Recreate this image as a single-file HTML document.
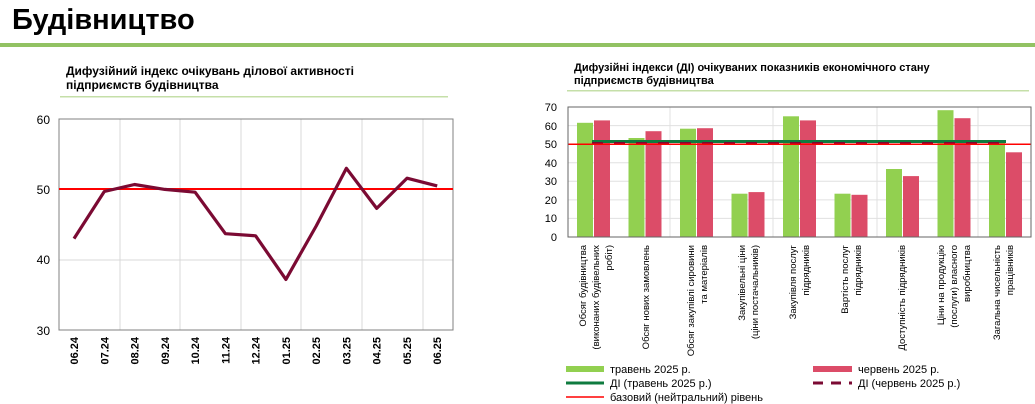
<!DOCTYPE html>
<html><head><meta charset="utf-8"><style>
html,body{margin:0;padding:0;background:#fff;}
svg{display:block;font-family:"Liberation Sans",sans-serif;}
</style></head><body>
<svg width="1035" height="404" viewBox="0 0 1035 404" xmlns="http://www.w3.org/2000/svg">
<text x="12" y="29" font-size="29" font-weight="bold">Будівництво</text>
<rect x="0" y="43" width="1035" height="4" fill="#92c263"/>

<!-- Left chart -->
<text x="66" y="75" font-size="12" font-weight="bold">Дифузійний індекс очікувань ділової активності</text>
<text x="66" y="89" font-size="12" font-weight="bold">підприємств будівництва</text>
<rect x="60" y="96" width="388" height="1.5" fill="#c5dfa8"/>
<g stroke="#d9d9d9" stroke-width="1">
<line x1="59" y1="260" x2="453" y2="260"/>
<line x1="120" y1="119" x2="120" y2="330"/><line x1="180" y1="119" x2="180" y2="330"/>
<line x1="241" y1="119" x2="241" y2="330"/><line x1="301" y1="119" x2="301" y2="330"/>
<line x1="362" y1="119" x2="362" y2="330"/><line x1="423" y1="119" x2="423" y2="330"/>
</g>
<rect x="59" y="119" width="394" height="211" fill="none" stroke="#808080" stroke-width="1"/>
<line x1="59" y1="189" x2="453" y2="189" stroke="#ff0000" stroke-width="2"/>
<g font-size="12" text-anchor="end"><text x="50" y="124">60</text><text x="50" y="194">50</text><text x="50" y="264">40</text><text x="50" y="335">30</text></g>
<polyline fill="none" stroke="#7b0a33" stroke-width="3.2" stroke-linejoin="round" points="74,238.6 104.3,191.5 134.5,184.5 164.8,189.4 195.1,192.2 225.4,233.7 255.6,235.8 285.9,279.4 316.2,226 346.4,168.3 376.7,208.4 407,178.2 437.2,185.9"/>
<g font-size="11" font-weight="bold" text-anchor="end">
<text transform="translate(78,337) rotate(-90)">06.24</text>
<text transform="translate(108.3,337) rotate(-90)">07.24</text>
<text transform="translate(138.5,337) rotate(-90)">08.24</text>
<text transform="translate(168.8,337) rotate(-90)">09.24</text>
<text transform="translate(199.1,337) rotate(-90)">10.24</text>
<text transform="translate(229.4,337) rotate(-90)">11.24</text>
<text transform="translate(259.6,337) rotate(-90)">12.24</text>
<text transform="translate(289.9,337) rotate(-90)">01.25</text>
<text transform="translate(320.2,337) rotate(-90)">02.25</text>
<text transform="translate(350.4,337) rotate(-90)">03.25</text>
<text transform="translate(380.7,337) rotate(-90)">04.25</text>
<text transform="translate(411,337) rotate(-90)">05.25</text>
<text transform="translate(441.2,337) rotate(-90)">06.25</text>
</g>

<!-- Right chart -->
<text x="574" y="71" font-size="11" font-weight="bold">Дифузійні індекси (ДІ) очікуваних показників економічного стану</text>
<text x="574" y="84" font-size="11" font-weight="bold">підприємств будівництва</text>
<rect x="567" y="90" width="462" height="1.5" fill="#c5dfa8"/>
<g stroke="#e0e0e0" stroke-width="1">
<line x1="568" y1="125.6" x2="1031" y2="125.6"/><line x1="568" y1="144.1" x2="1031" y2="144.1"/>
<line x1="568" y1="162.7" x2="1031" y2="162.7"/><line x1="568" y1="181.3" x2="1031" y2="181.3"/>
<line x1="568" y1="199.9" x2="1031" y2="199.9"/><line x1="568" y1="218.4" x2="1031" y2="218.4"/>
<line x1="670" y1="107" x2="670" y2="237"/><line x1="773" y1="107" x2="773" y2="237"/>
<line x1="877" y1="107" x2="877" y2="237"/><line x1="978" y1="107" x2="978" y2="237"/>
</g>
<g fill="#92d050">
<rect x="577" y="122.8" width="16" height="114.2"/><rect x="628.5" y="138" width="16" height="99"/>
<rect x="680" y="128.7" width="16" height="108.3"/><rect x="731.5" y="193.7" width="16" height="43.3"/>
<rect x="783" y="116.3" width="16" height="120.7"/><rect x="834.5" y="193.7" width="16" height="43.3"/>
<rect x="886" y="169" width="16" height="68"/><rect x="937.5" y="110.2" width="16" height="126.8"/>
<rect x="989" y="143" width="16" height="94"/>
</g>
<g fill="#dc4c68">
<rect x="594" y="120.4" width="16" height="116.6"/><rect x="645.5" y="131.2" width="16" height="105.8"/>
<rect x="697" y="128.2" width="16" height="108.8"/><rect x="748.5" y="192.1" width="16" height="44.9"/>
<rect x="800" y="120.4" width="16" height="116.6"/><rect x="851.5" y="194.8" width="16" height="42.2"/>
<rect x="903" y="176.1" width="16" height="60.9"/><rect x="954.5" y="118.2" width="16" height="118.8"/>
<rect x="1006" y="152.3" width="16" height="84.7"/>
</g>
<line x1="592" y1="141.5" x2="1006" y2="141.5" stroke="#0f7b3f" stroke-width="3"/>
<line x1="592" y1="143.5" x2="1006" y2="143.5" stroke="#7b0a33" stroke-width="3" stroke-dasharray="11,11"/>
<line x1="568" y1="144.2" x2="1031" y2="144.2" stroke="#ff0000" stroke-width="1.5"/>
<rect x="568" y="107" width="463" height="130" fill="none" stroke="#666" stroke-width="1"/>
<g font-size="11" text-anchor="end">
<text x="557" y="111">70</text><text x="557" y="130">60</text><text x="557" y="148">50</text>
<text x="557" y="167">40</text><text x="557" y="185">30</text><text x="557" y="204">20</text>
<text x="557" y="222">10</text><text x="557" y="241">0</text>
</g>
<g font-size="9.5" text-anchor="end">
<text transform="translate(586,245) rotate(-90)">Обсяг будівництва</text>
<text transform="translate(599,245) rotate(-90)">(виконаних будівельних</text>
<text transform="translate(612,245) rotate(-90)">робіт)</text>
<text transform="translate(649,245) rotate(-90)">Обсяг нових замовлень</text>
<text transform="translate(694,245) rotate(-90)">Обсяг закупівлі сировини</text>
<text transform="translate(707,245) rotate(-90)">та матеріалів</text>
<text transform="translate(745,245) rotate(-90)">Закупівельні ціни</text>
<text transform="translate(758,245) rotate(-90)">(ціни постачальників)</text>
<text transform="translate(796,245) rotate(-90)">Закупівля послуг</text>
<text transform="translate(809,245) rotate(-90)">підрядників</text>
<text transform="translate(848,245) rotate(-90)">Вартість послуг</text>
<text transform="translate(861,245) rotate(-90)">підрядників</text>
<text transform="translate(905,245) rotate(-90)">Доступність підрядників</text>
<text transform="translate(944,245) rotate(-90)">Ціни на продукцію</text>
<text transform="translate(957,245) rotate(-90)">(послуги) власного</text>
<text transform="translate(970,245) rotate(-90)">виробництва</text>
<text transform="translate(1000,245) rotate(-90)">Загальна чисельність</text>
<text transform="translate(1013,245) rotate(-90)">працівників</text>
</g>
<!-- Legend -->
<rect x="566" y="366" width="38" height="6" fill="#92d050"/>
<text x="610" y="373" font-size="11">травень 2025 р.</text>
<rect x="813" y="366" width="39" height="6" fill="#dc4c68"/>
<text x="858" y="373" font-size="11">червень 2025 р.</text>
<line x1="566" y1="383" x2="604" y2="383" stroke="#0f7b3f" stroke-width="3"/>
<text x="610" y="387" font-size="11">ДІ (травень 2025 р.)</text>
<line x1="813" y1="383" x2="852" y2="383" stroke="#7b0a33" stroke-width="3" stroke-dasharray="10,8"/>
<text x="858" y="387" font-size="11">ДІ (червень 2025 р.)</text>
<line x1="566" y1="397" x2="604" y2="397" stroke="#ff0000" stroke-width="1.5"/>
<text x="610" y="401" font-size="11">базовий (нейтральний) рівень</text>
</svg>
</body></html>
